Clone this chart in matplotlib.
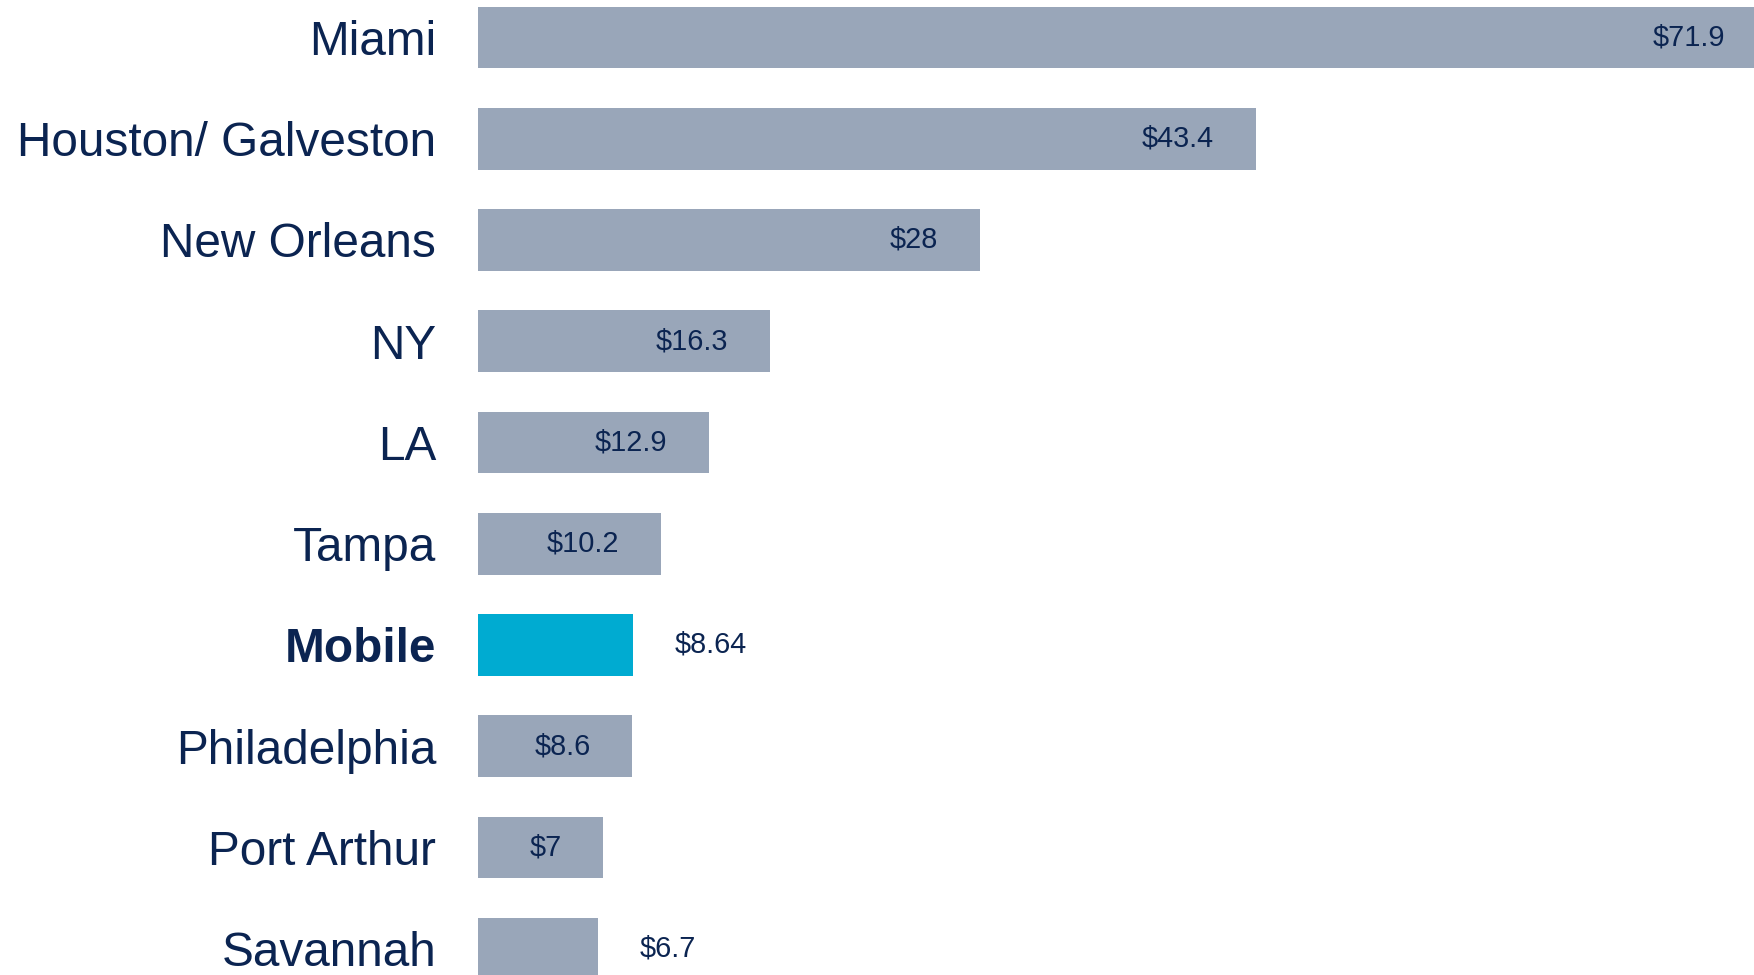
import matplotlib
matplotlib.use("Agg")
import matplotlib.pyplot as plt

categories = ["Miami", "Houston/ Galveston", "New Orleans", "NY", "LA", "Tampa",
              "Mobile", "Philadelphia", "Port Arthur", "Savannah"]
values = [71.9, 43.4, 28, 16.3, 12.9, 10.2, 8.64, 8.6, 7, 6.7]
labels = ["$71.9", "$43.4", "$28", "$16.3", "$12.9", "$10.2", "$8.64", "$8.6", "$7", "$6.7"]
highlight = "Mobile"
outside = ["Mobile", "Savannah"]

plt.rcParams['font.family'] = ['Liberation Sans', 'DejaVu Sans']
NAVY = "#0b2451"
GRAY = "#99a6b9"
CYAN = "#00abd1"

fig = plt.figure(figsize=(17.54, 9.75), dpi=100)
ax = fig.add_axes([478 / 1754, 0, 1 - 478 / 1754, 1])

ypos = list(range(len(categories)))
colors = [CYAN if c == highlight else GRAY for c in categories]
ax.barh(ypos, values, height=0.61, color=colors, edgecolor="none")

ax.set_xlim(0, 71.2)
ax.set_ylim(9.26, -0.37)

for y, v, lab, c in zip(ypos, values, labels, categories):
    if c in outside:
        ax.annotate(lab, xy=(v, y), xytext=(30, 0), textcoords="offset points",
                    ha="left", va="center", fontsize=20.8, color=NAVY,
                    annotation_clip=False)
    else:
        ax.annotate(lab, xy=(v, y), xytext=(-30, 0), textcoords="offset points",
                    ha="right", va="center", fontsize=20.8, color=NAVY,
                    annotation_clip=False)

ax.set_yticks(ypos)
ax.set_yticklabels(categories, fontsize=34.4, color=NAVY)
for t in ax.get_yticklabels():
    if t.get_text() == highlight:
        t.set_fontweight("bold")
ax.tick_params(axis="y", length=0, pad=30)
ax.set_xticks([])
for s in ax.spines.values():
    s.set_visible(False)

fig.savefig("out.png", dpi=100)
